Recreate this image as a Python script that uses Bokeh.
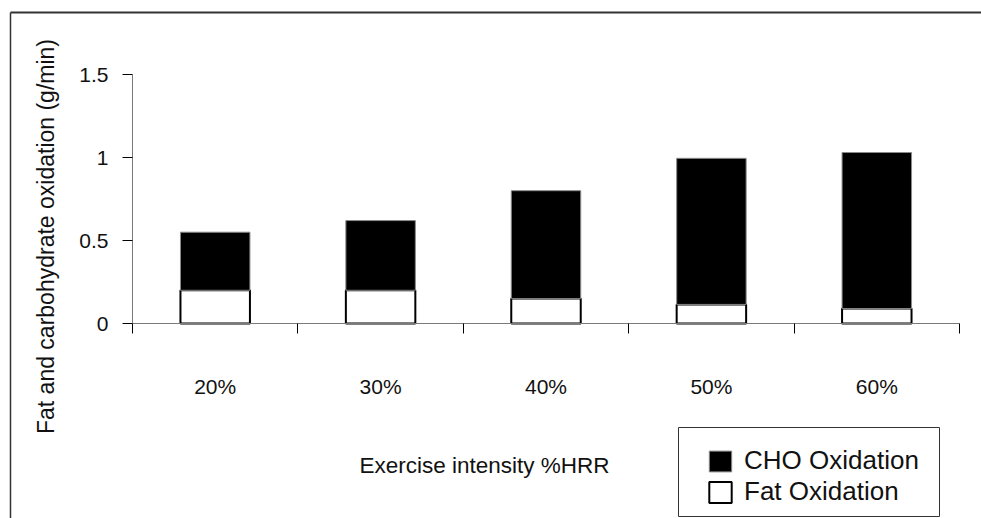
from bokeh.plotting import figure
from bokeh.models import (Range1d, FixedTicker, Legend, LegendItem, Label, Arrow,
                          ColumnDataSource, BoxAnnotation)
from bokeh.embed import file_html
from bokeh.resources import INLINE
import math

categories = ["20%", "30%", "40%", "50%", "60%"]
fat_oxidation = [0.20, 0.20, 0.15, 0.115, 0.09]
cho_oxidation = [0.35, 0.42, 0.65, 0.88, 0.94]
y_ticks = [0, 0.5, 1, 1.5]
y_tick_labels = ["0", "0.5", "1", "1.5"]

FONT = "Liberation Sans"
TXT = "#111111"

W, H = 981, 518
# pixel geometry of the plotting area inside the canvas
AX_LEFT, AX_RIGHT, AX_TOP, AX_BOTTOM = 132, 959, 74, 323
n = len(categories)
xscale = (AX_RIGHT - AX_LEFT) / n
yscale = (AX_BOTTOM - AX_TOP) / 1.5
x0 = -AX_LEFT / xscale
x1 = x0 + W / xscale
y0 = -(H - AX_BOTTOM) / yscale
y1 = y0 + H / yscale

def px(X):
    return x0 + X / xscale

def py(Y):
    return y0 + (H - Y) / yscale

xpos = [i + 0.5 for i in range(n)]
source = ColumnDataSource(dict(x=xpos, fat=fat_oxidation, cho=cho_oxidation, cat=categories))

p = figure(width=W, height=H, output_backend="svg", toolbar_location=None,
           x_range=Range1d(x0, x1), y_range=Range1d(y0, y1),
           min_border=0)
p.outline_line_color = None
p.xgrid.visible = False
p.ygrid.visible = False
p.background_fill_color = "white"
p.border_fill_color = "white"

rs = p.vbar_stack(["fat", "cho"], x="x", width=0.42, source=source,
                  fill_color=["white", "black"], line_color=["black", "#8a8a8a"],
                  line_width=[2, 1])

# x axis: ticks at category boundaries, labels at centres
xa = p.xaxis[0]
xa.fixed_location = 0
xa.bounds = (0, n)
xa.ticker = FixedTicker(ticks=xpos, minor_ticks=list(range(n + 1)))
xa.major_label_overrides = {x: c for x, c in zip(xpos, categories)}
xa.major_tick_line_color = None
xa.major_tick_out = 0
xa.major_tick_in = 0
xa.minor_tick_out = 10
xa.minor_tick_in = 0
xa.minor_tick_line_color = "black"
xa.axis_line_color = "#7a7a7a"
xa.major_label_standoff = 41
xa.major_label_text_font = FONT
xa.major_label_text_font_size = "21px"
xa.major_label_text_color = TXT

ya = p.yaxis[0]
ya.fixed_location = 0
ya.bounds = (0, 1.5)
ya.ticker = FixedTicker(ticks=y_ticks, minor_ticks=[])
ya.major_label_overrides = {t: l for t, l in zip(y_ticks, y_tick_labels)}
ya.major_tick_out = 10
ya.major_tick_in = 0
ya.major_tick_line_color = "black"
ya.axis_line_color = "#7a7a7a"
ya.major_label_standoff = 14
ya.major_label_text_font = FONT
ya.major_label_text_font_size = "21px"
ya.major_label_text_color = TXT

# axis titles (placed as in the original, off-centre)
p.add_layout(Label(x=px(484), y=py(465), text="Exercise intensity %HRR", text_align="center",
                   text_baseline="middle", text_font=FONT, text_font_size="22.5px",
                   text_color=TXT))
p.add_layout(Label(x=px(45), y=py(236), text="Fat and carbohydrate oxidation (g/min)",
                   angle=math.pi / 2, text_align="center", text_baseline="middle",
                   text_font=FONT, text_font_size="23px", text_color=TXT))

# outer frame lines (top and left)
p.add_layout(Arrow(end=None, x_start=px(10), y_start=py(12), x_end=px(W + 5), y_end=py(12),
                   line_color="#333333", line_width=2))
p.add_layout(Arrow(end=None, x_start=px(10), y_start=py(12), x_end=px(10), y_end=py(H + 5),
                   line_color="#333333", line_width=1.5))

# legend frame
p.add_layout(BoxAnnotation(left=px(678), right=px(939), top=py(427), bottom=py(516),
                           fill_alpha=0, line_color="#333333", line_width=1, line_alpha=1))

legend = Legend(items=[LegendItem(label="CHO Oxidation", renderers=[rs[1]]),
                       LegendItem(label="Fat Oxidation", renderers=[rs[0]])],
                location=(706, H - 507), orientation="vertical",
                glyph_width=28, glyph_height=26, spacing=-2, padding=0, label_standoff=10,
                label_text_font=FONT, label_text_font_size="26px", label_text_color=TXT,
                border_line_alpha=0, background_fill_alpha=0, margin=0)
p.add_layout(legend, "center")

open("out.html", "w").write(file_html(p, INLINE))
